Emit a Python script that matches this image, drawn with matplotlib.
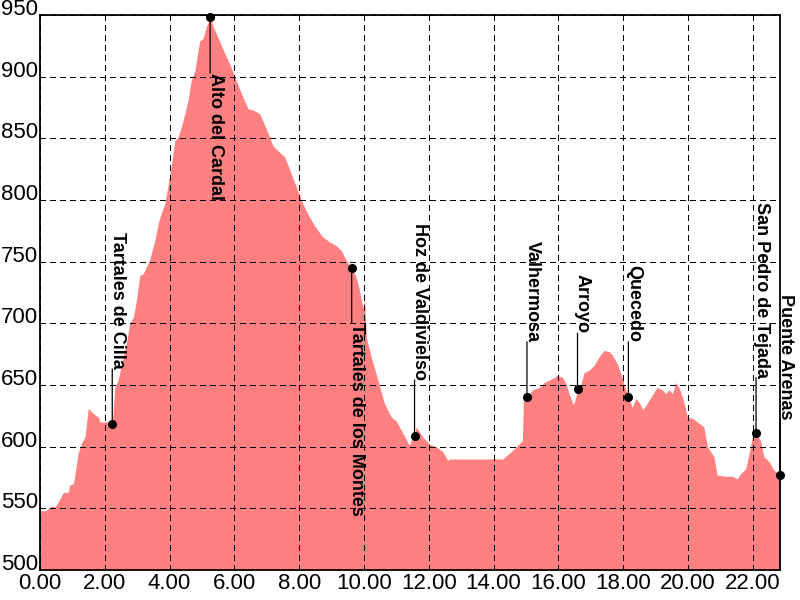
import matplotlib
matplotlib.use("Agg")
import matplotlib.pyplot as plt

plt.rcParams['font.family'] = ['Liberation Sans', 'DejaVu Sans']
plt.rcParams['lines.scale_dashes'] = False

# elevation profile (km, m)
km = [0, 0.18, 0.36, 0.46, 0.56, 0.72, 0.87, 0.92, 1.03, 1.08, 1.18, 1.28, 1.39,
      1.49, 1.64, 1.80, 1.85, 2.21, 2.23, 2.31, 2.41, 2.52, 2.67, 2.77, 2.88, 2.98,
      3.03, 3.08, 3.18, 3.29, 3.39, 3.49, 3.54, 3.65, 3.70, 3.85, 3.96, 4.06, 4.16,
      4.26, 4.37, 4.47, 4.57, 4.67, 4.78, 4.83, 4.93, 5.03, 5.14, 5.25, 5.34, 5.49,
      5.65, 5.86, 6.01, 6.22, 6.42, 6.57, 6.78, 6.88, 7.04, 7.19, 7.34, 7.55, 7.76,
      7.96, 8.11, 8.32, 8.53, 8.73, 8.94, 9.14, 9.30, 9.45, 9.62, 9.76, 9.86, 9.96,
      10.02, 10.07, 10.22, 10.43, 10.63, 10.84, 10.99, 11.20, 11.40, 11.50, 11.56,
      11.61, 11.81, 12.02, 12.22, 12.43, 12.58, 12.64, 14.28, 14.59, 14.89, 14.92,
      15.03, 15.20, 15.41, 15.56, 15.72, 15.87, 15.97, 16.13, 16.23, 16.33, 16.46,
      16.54, 16.59, 16.69, 16.79, 16.95, 17.10, 17.26, 17.41, 17.57, 17.67, 17.82,
      17.98, 18.08, 18.16, 18.28, 18.39, 18.49, 18.61, 18.74, 18.90, 19.05, 19.21,
      19.31, 19.41, 19.52, 19.62, 19.72, 19.83, 19.93, 19.98, 20.14, 20.34, 20.49,
      20.60, 20.80, 20.90, 21.16, 21.37, 21.52, 21.62, 21.78, 21.88, 21.98, 22.10,
      22.24, 22.34, 22.50, 22.65, 22.84]
elev = [548, 548, 552, 551, 555, 563, 563, 569, 570, 578, 595, 603, 608,
        631, 627, 624, 620, 620, 618, 648, 654, 667, 684, 700, 705, 719,
        729, 739, 740, 746, 752, 762, 767, 781, 786, 797, 813, 829, 848,
        851, 860, 870, 881, 897, 905, 913, 929, 931, 941, 948, 941, 932,
        922, 910, 900, 886, 874, 873, 870, 864, 854, 844, 840, 835, 821,
        807, 797, 786, 777, 770, 766, 763, 759, 751, 745, 737, 727, 713,
        719, 689, 673, 654, 635, 624, 621, 611, 601, 608, 609,
        616, 608, 602, 600, 596, 589, 590, 590, 597, 605, 640,
        640, 646, 648, 652, 654, 656, 658, 656, 651, 643, 634,
        640, 647, 650, 660, 662, 666, 673, 678, 677, 674, 667,
        655, 646, 640, 632, 639, 636, 630, 635, 642, 648, 646,
        643, 646, 643, 652, 648, 640, 630, 624, 623, 619, 616,
        600, 592, 577, 576, 576, 574, 578, 582, 594, 607, 611,
        605, 592, 588, 581, 577]

# waypoints
names = ["Tartales de Cilla", "Alto del Cardal", "Tartales de los Montes",
         "Hoz de Valdivielso", "Valhermosa", "Arroyo", "Quecedo",
         "San Pedro de Tejada", "Puente Arenas"]
pt_km = [2.23, 5.25, 9.62, 11.56, 15.03, 16.59, 18.16, 22.10, 22.84]
pt_elev = [618, 948, 745, 609, 640, 647, 640, 611, 577]
above = [True, False, False, True, True, True, True, True, True]

xticks = [0, 2, 4, 6, 8, 10, 12, 14, 16, 18, 20, 22]
yticks = [500, 550, 600, 650, 700, 750, 800, 850, 900, 950]

fig = plt.figure(figsize=(8, 6), dpi=100)
ax = fig.add_axes([0.05, 0.05, 0.925, 0.925])

ax.fill_between(km, 500, elev, color='#FF8080', linewidth=0, zorder=1)

ax.set_xlim(0, 22.84)
ax.set_ylim(500, 950)
ax.set_xticks(xticks)
ax.set_yticks(yticks)
ax.set_xticklabels(["%.2f" % v for v in xticks])
ax.tick_params(length=0, labelsize=16)
ax.tick_params(axis='x', pad=2)
ax.tick_params(axis='y', pad=1.5)
for lab in ax.get_yticklabels():
    lab.set_va('baseline')

ax.grid(True, color='black', linestyle=(0, (3.6, 2.9)), linewidth=0.75,
        antialiased=False, zorder=2)
ax.set_axisbelow(False)
for s in ax.spines.values():
    s.set_linewidth(1.3)
    s.set_zorder(4)

for name, x, y, up in zip(names, pt_km, pt_elev, above):
    off = 40 if up else -40
    ax.annotate('', xy=(x, y), xytext=(0, off), textcoords='offset points',
                arrowprops=dict(arrowstyle='-', color='black', lw=0.9,
                                shrinkA=0, shrinkB=0), annotation_clip=False)
    ax.plot([x], [y], 'o', color='black', markersize=5.5, clip_on=False, zorder=5)
    ax.annotate(name, xy=(x, y), xytext=(-2.5, off), textcoords='offset points',
                rotation=-90, ha='left', va='bottom' if up else 'top',
                fontsize=13, fontweight='bold', annotation_clip=False)

fig.savefig('out.png', dpi=100)
